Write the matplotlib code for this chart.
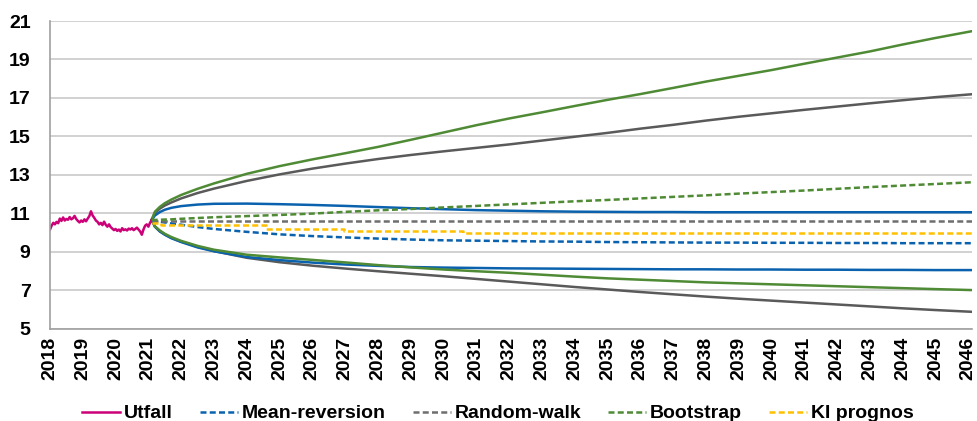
import matplotlib
matplotlib.use("Agg")
import matplotlib.pyplot as plt
from matplotlib.ticker import FixedLocator

plt.rcParams['font.family'] = ['Liberation Sans', 'DejaVu Sans']

# ---- Utfall (history) ----
utfall_x = [2018.00, 2018.05, 2018.10, 2018.15, 2018.20, 2018.25, 2018.30, 2018.35, 2018.40,
            2018.45, 2018.50, 2018.55, 2018.60, 2018.65, 2018.70, 2018.75, 2018.80, 2018.85,
            2018.90, 2018.95, 2019.00, 2019.05, 2019.10, 2019.15, 2019.20, 2019.25, 2019.30,
            2019.35, 2019.40, 2019.45, 2019.50, 2019.55, 2019.60, 2019.65, 2019.70, 2019.75,
            2019.80, 2019.85, 2019.90, 2019.95, 2020.00, 2020.05, 2020.10, 2020.15, 2020.20,
            2020.25, 2020.30, 2020.35, 2020.40, 2020.45, 2020.50, 2020.55, 2020.60, 2020.65,
            2020.70, 2020.75, 2020.80, 2020.85, 2020.90, 2020.95, 2021.00, 2021.05, 2021.10]
utfall_y = [10.15, 10.35, 10.5, 10.42, 10.55, 10.48, 10.72, 10.6, 10.78,
            10.62, 10.7, 10.66, 10.8, 10.68, 10.74, 10.86, 10.7, 10.6,
            10.52, 10.62, 10.55, 10.68, 10.58, 10.72, 10.85, 11.1, 10.88,
            10.76, 10.62, 10.55, 10.42, 10.5, 10.38, 10.56, 10.4, 10.3,
            10.42, 10.28, 10.2, 10.12, 10.18, 10.08, 10.15, 10.05, 10.22,
            10.12, 10.16, 10.1, 10.2, 10.15, 10.22, 10.12, 10.18, 10.25,
            10.15, 10.05, 9.88, 10.15, 10.35, 10.42, 10.3, 10.5, 10.65]

# ---- forecast horizon ----
fc_x = [2021.1, 2021.2, 2021.35, 2021.5, 2021.7, 2022, 2022.5, 2023, 2024, 2025, 2026,
        2027, 2028, 2029, 2030, 2031, 2032, 2033, 2034, 2035, 2036, 2037, 2038, 2039,
        2040, 2041, 2042, 2043, 2044, 2045, 2046.1]

# Mean-reversion
mr_mid = [10.6, 10.58, 10.55, 10.52, 10.47, 10.4, 10.28, 10.18, 10.03, 9.9, 9.81,
          9.74, 9.68, 9.63, 9.59, 9.57, 9.55, 9.53, 9.52, 9.5, 9.49, 9.48, 9.47, 9.47,
          9.46, 9.46, 9.45, 9.45, 9.44, 9.44, 9.44]
mr_up = [10.65, 10.88, 11.06, 11.18, 11.28, 11.37, 11.45, 11.49, 11.5, 11.47, 11.43,
         11.38, 11.32, 11.26, 11.21, 11.16, 11.13, 11.1, 11.08, 11.07, 11.06, 11.06, 11.05,
         11.05, 11.05, 11.05, 11.05, 11.05, 11.05, 11.05, 11.05]
mr_lo = [10.65, 10.3, 10.05, 9.88, 9.7, 9.5, 9.22, 9.02, 8.72, 8.56, 8.43,
         8.33, 8.26, 8.2, 8.17, 8.15, 8.13, 8.12, 8.11, 8.1, 8.09, 8.08, 8.08, 8.07,
         8.07, 8.06, 8.06, 8.05, 8.05, 8.04, 8.04]

# Random-walk
rw_mid = [10.62] * len(fc_x)
rw_up = [10.65, 11.02, 11.24, 11.4, 11.56, 11.77, 12.05, 12.28, 12.68, 13.02, 13.32,
         13.58, 13.82, 14.03, 14.22, 14.4, 14.58, 14.78, 14.98, 15.18, 15.4, 15.6, 15.82,
         16.02, 16.2, 16.38, 16.55, 16.72, 16.88, 17.04, 17.19]
rw_lo = [10.65, 10.3, 10.06, 9.9, 9.72, 9.52, 9.25, 9.03, 8.68, 8.45, 8.27,
         8.12, 7.98, 7.85, 7.72, 7.58, 7.44, 7.3, 7.16, 7.03, 6.9, 6.78, 6.66, 6.55,
         6.45, 6.35, 6.25, 6.15, 6.05, 5.96, 5.87]

# Bootstrap
bs_mid = [10.65, 10.65, 10.66, 10.67, 10.68, 10.71, 10.75, 10.79, 10.85, 10.91, 10.98,
          11.07, 11.15, 11.22, 11.3, 11.38, 11.46, 11.54, 11.62, 11.69, 11.77, 11.85, 11.93,
          12.02, 12.1, 12.18, 12.27, 12.36, 12.44, 12.52, 12.61]
bs_up = [10.65, 11.08, 11.33, 11.52, 11.71, 11.95, 12.27, 12.55, 13.05, 13.45, 13.8,
         14.12, 14.45, 14.82, 15.2, 15.58, 15.93, 16.25, 16.58, 16.9, 17.2, 17.52, 17.85,
         18.15, 18.45, 18.78, 19.1, 19.42, 19.78, 20.12, 20.47]
bs_lo = [10.65, 10.32, 10.1, 9.93, 9.76, 9.56, 9.3, 9.1, 8.84, 8.7, 8.57,
         8.44, 8.3, 8.18, 8.07, 7.98, 7.9, 7.8, 7.7, 7.61, 7.54, 7.47, 7.4, 7.35,
         7.3, 7.25, 7.2, 7.15, 7.1, 7.05, 7.0]

# KI prognos (step series)
ki_x = [2021.1, 2021.4, 2024.6, 2026.95, 2030.6, 2046.1]
ki_y = [10.5, 10.39, 10.2, 10.07, 9.98, 9.98]

years = list(range(2018, 2047))

C_UTF = '#CC0077'
C_BLUE = '#0A62AE'
C_GRAY = '#5A5A5A'
C_GRAYD = '#6E6E6E'
C_GREEN = '#4F8A35'
C_YEL = '#FFC000'

fig = plt.figure(figsize=(9.78, 4.21), dpi=100)
ax = fig.add_axes([0.0511, 0.2197, 0.9424, 0.7303])

lw = 1.8
dash = (2.4, 1.3)

# bands
ax.plot(fc_x, rw_up, color=C_GRAY, lw=lw)
ax.plot(fc_x, rw_lo, color=C_GRAY, lw=lw)
ax.plot(fc_x, mr_up, color=C_BLUE, lw=lw)
ax.plot(fc_x, mr_lo, color=C_BLUE, lw=lw)
ax.plot(fc_x, bs_up, color=C_GREEN, lw=lw)
ax.plot(fc_x, bs_lo, color=C_GREEN, lw=lw)

# central paths
l_utf, = ax.plot(utfall_x, utfall_y, color=C_UTF, lw=lw, label='Utfall')
l_mr, = ax.plot(fc_x, mr_mid, color=C_BLUE, lw=lw, dashes=dash, label='Mean-reversion')
l_rw, = ax.plot(fc_x, rw_mid, color=C_GRAYD, lw=lw, dashes=dash, label='Random-walk')
l_bs, = ax.plot(fc_x, bs_mid, color=C_GREEN, lw=lw, dashes=dash, label='Bootstrap')
l_ki, = ax.plot(ki_x, ki_y, color=C_YEL, lw=lw, dashes=dash, drawstyle='steps-post',
                label='KI prognos')

ax.set_xlim(2018, 2046.1)
ax.set_ylim(5, 21)
ax.set_yticks(range(5, 22, 2))
ax.xaxis.set_major_locator(FixedLocator(years))
ax.set_xticklabels([str(y) for y in years], rotation=90, fontsize=14, fontweight='bold')
for t in ax.get_yticklabels():
    t.set_fontsize(14)
    t.set_fontweight('bold')

ax.grid(axis='y', color='#CACACA', lw=1.2)
ax.set_axisbelow(True)
for s in ['top', 'right']:
    ax.spines[s].set_visible(False)
for s in ['left', 'bottom']:
    ax.spines[s].set_color('#A0A0A0')
    ax.spines[s].set_linewidth(1.2)
ax.tick_params(axis='x', length=0, pad=6)
ax.tick_params(axis='y', length=0, pad=14)

fig.legend(handles=[l_utf, l_mr, l_rw, l_bs, l_ki], loc='lower center',
           bbox_to_anchor=(0.509, -0.045), ncol=5, frameon=False,
           prop={'size': 14, 'weight': 'bold'}, handlelength=1.95,
           handletextpad=0.2, columnspacing=1.4)

fig.savefig('out.png', dpi=100)
